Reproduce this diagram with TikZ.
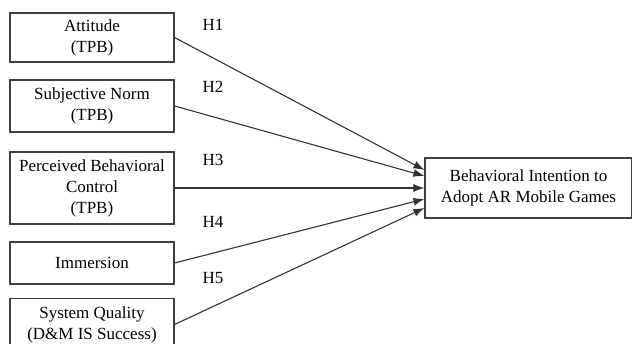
\documentclass[tikz,border=0pt]{standalone}
\usepackage{fontspec}
\setmainfont{Liberation Serif}
\usetikzlibrary{arrows.meta}
\begin{document}
\begin{tikzpicture}[x=1pt,y=1pt,
        box/.style={draw=black!75,line width=1.1pt,minimum width=164pt,align=center,inner sep=0pt,font=\fontsize{17}{21}\selectfont},
        link/.style={draw=black!80,line width=1.1pt,-{Latex[length=11pt,width=8pt]}},
        hyp/.style={font=\fontsize{17}{21}\selectfont}]
            \useasboundingbox (0,0) rectangle (632,343);
            \clip (0,0) rectangle (632,343);
            \node[box,minimum height=49pt] (att) at (92,305.5) {Attitude\\(TPB)};
            \node[box,minimum height=52pt] (sn) at (92,237) {Subjective Norm\\(TPB)};
            \node[box,minimum height=72pt] (pbc) at (92,155) {Perceived Behavioral\\Control\\(TPB)};
            \node[box,minimum height=42pt] (imm) at (92,80) {Immersion};
            \node[box,minimum height=52pt] (sq) at (92,18.5) {System Quality\\(D\&M IS Success)};
            \node[box,minimum width=207pt,minimum height=60pt] (bi) at (528.5,155) {Behavioral Intention to\\Adopt AR Mobile Games};
            \foreach \src/\dy/\lab/\ly in {att/18/H1/318,sn/12/H2/256,pbc/0/H3/183,imm/-11/H4/121,sq/-20/H5/65}{
                \draw[link] (\src.east) -- ([yshift=\dy pt]bi.west);
                \node[hyp] (lab\lab) at (213,\ly) {\lab};
            }
        \end{tikzpicture}
\end{document}
